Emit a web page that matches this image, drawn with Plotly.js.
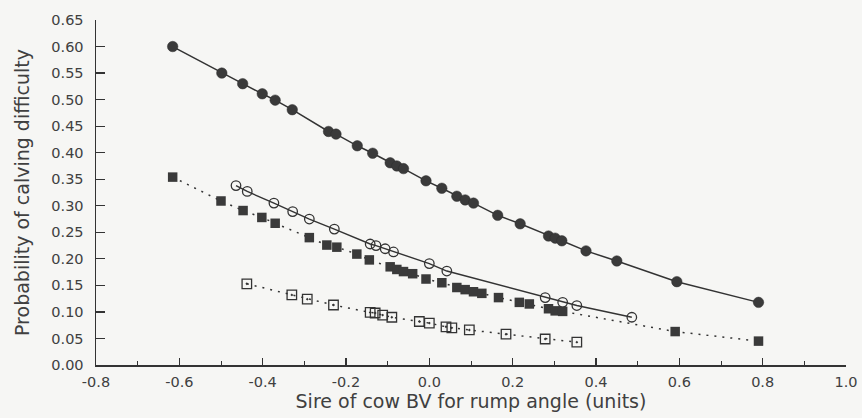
<!DOCTYPE html>
<html>
<head>
<meta charset="utf-8">
<script src="https://cdn.plot.ly/plotly-3.0.1.min.js"></script>
<style>html,body{margin:0;padding:0;background:#f6f6f4;}</style>
</head>
<body>
<div id="chart" style="width:862px;height:418px;"></div>
<script>
// Series A: filled circles, solid line
const xFilledCircle = [-0.616, -0.498, -0.448, -0.401, -0.370, -0.329, -0.242, -0.224, -0.173, -0.136, -0.094, -0.078, -0.062, -0.008, 0.030, 0.066, 0.086, 0.106, 0.164, 0.218, 0.286, 0.302, 0.318, 0.376, 0.450, 0.594, 0.790];
const yFilledCircle = [0.600, 0.550, 0.530, 0.511, 0.499, 0.481, 0.440, 0.435, 0.413, 0.399, 0.381, 0.375, 0.370, 0.347, 0.333, 0.318, 0.311, 0.305, 0.282, 0.266, 0.243, 0.239, 0.234, 0.215, 0.196, 0.157, 0.118];

// Series B: open circles, solid line
const xOpenCircle = [-0.464, -0.437, -0.373, -0.328, -0.288, -0.228, -0.142, -0.128, -0.106, -0.086, 0.000, 0.042, 0.278, 0.320, 0.354, 0.486];
const yOpenCircle = [0.338, 0.327, 0.305, 0.289, 0.275, 0.256, 0.228, 0.225, 0.219, 0.213, 0.191, 0.177, 0.127, 0.118, 0.112, 0.090];

// Series C: filled squares, dotted line
const xFilledSquare = [-0.616, -0.500, -0.447, -0.402, -0.370, -0.288, -0.246, -0.222, -0.174, -0.144, -0.094, -0.078, -0.062, -0.040, -0.008, 0.030, 0.066, 0.086, 0.106, 0.126, 0.166, 0.216, 0.240, 0.286, 0.302, 0.320, 0.590, 0.790];
const yFilledSquare = [0.354, 0.309, 0.291, 0.278, 0.267, 0.240, 0.226, 0.222, 0.209, 0.198, 0.185, 0.180, 0.176, 0.172, 0.162, 0.155, 0.146, 0.142, 0.138, 0.135, 0.127, 0.118, 0.115, 0.106, 0.102, 0.101, 0.063, 0.045];

// Series D: open squares, dotted line
const xOpenSquare = [-0.438, -0.330, -0.293, -0.230, -0.142, -0.130, -0.112, -0.090, -0.024, 0.000, 0.040, 0.054, 0.096, 0.184, 0.278, 0.354];
const yOpenSquare = [0.153, 0.132, 0.124, 0.113, 0.099, 0.098, 0.094, 0.090, 0.082, 0.079, 0.072, 0.070, 0.066, 0.058, 0.049, 0.043];

const xTickVals = [-0.8, -0.6, -0.4, -0.2, 0.0, 0.2, 0.4, 0.6, 0.8, 1.0];
const xTickText = ["-0.8", "-0.6", "-0.4", "-0.2", "0.0", "0.2", "0.4", "0.6", "0.8", "1.0"];
const yTickVals = [0.00, 0.05, 0.10, 0.15, 0.20, 0.25, 0.30, 0.35, 0.40, 0.45, 0.50, 0.55, 0.60, 0.65];
const yTickText = ["0.00", "0.05", "0.10", "0.15", "0.20", "0.25", "0.30", "0.35", "0.40", "0.45", "0.50", "0.55", "0.60", "0.65"];

const ink = '#333333';

const traces = [
  {x: xFilledCircle, y: yFilledCircle, mode: 'lines+markers', type: 'scatter',
   line: {color: ink, width: 1.5},
   marker: {symbol: 'circle', size: 10.5, color: '#3a3a3a', line: {color: '#2e2e2e', width: 0.5}}},
  {x: xOpenCircle, y: yOpenCircle, mode: 'lines+markers', type: 'scatter',
   line: {color: ink, width: 1.4},
   marker: {symbol: 'circle-open', size: 9.5, color: ink, line: {color: ink, width: 1.3}}},
  {x: xFilledSquare, y: yFilledSquare, mode: 'lines+markers', type: 'scatter',
   line: {color: ink, width: 1.5, dash: '2px,6px'},
   marker: {symbol: 'square', size: 9.5, color: '#3a3a3a'}},
  {x: xOpenSquare, y: yOpenSquare, mode: 'lines+markers', type: 'scatter',
   line: {color: ink, width: 1.5, dash: '2px,6px'},
   marker: {symbol: 'square-open-dot', size: 9.5, color: ink, line: {color: ink, width: 1.3}}}
];

const layout = {
  width: 862, height: 418,
  margin: {l: 96, r: 16, t: 20, b: 53},
  paper_bgcolor: '#f6f6f4',
  plot_bgcolor: '#f6f6f4',
  showlegend: false,
  font: {family: 'DejaVu Sans, sans-serif', size: 14.5, color: '#404040'},
  xaxis: {
    range: [-0.8, 1.0], showgrid: false, zeroline: false,
    showline: true, linecolor: ink, linewidth: 1.5,
    tickmode: 'array', tickvals: xTickVals, ticktext: xTickText,
    ticks: 'inside', ticklen: 7, tickwidth: 1.2, tickcolor: ink,
    minor: {dtick: 0.1, tick0: -0.8, ticks: 'inside', ticklen: 4, tickwidth: 1, tickcolor: ink, showgrid: false},
    tickfont: {size: 14.5},
    ticklabelstandoff: 3,
    title: {text: 'Sire of cow BV for rump angle (units)', font: {size: 19}, standoff: 6}
  },
  yaxis: {
    range: [0, 0.65], showgrid: false, zeroline: false,
    showline: true, linecolor: ink, linewidth: 1.5,
    tickmode: 'array', tickvals: yTickVals, ticktext: yTickText,
    ticks: 'inside', ticklen: 9, tickwidth: 1.2, tickcolor: ink,
    tickfont: {size: 14.5},
    ticklabelstandoff: 8,
    title: {text: 'Probability of calving difficulty', font: {size: 19}, standoff: 16}
  }
};

Plotly.newPlot('chart', traces, layout, {displayModeBar: false, staticPlot: true});
</script>
</body>
</html>
